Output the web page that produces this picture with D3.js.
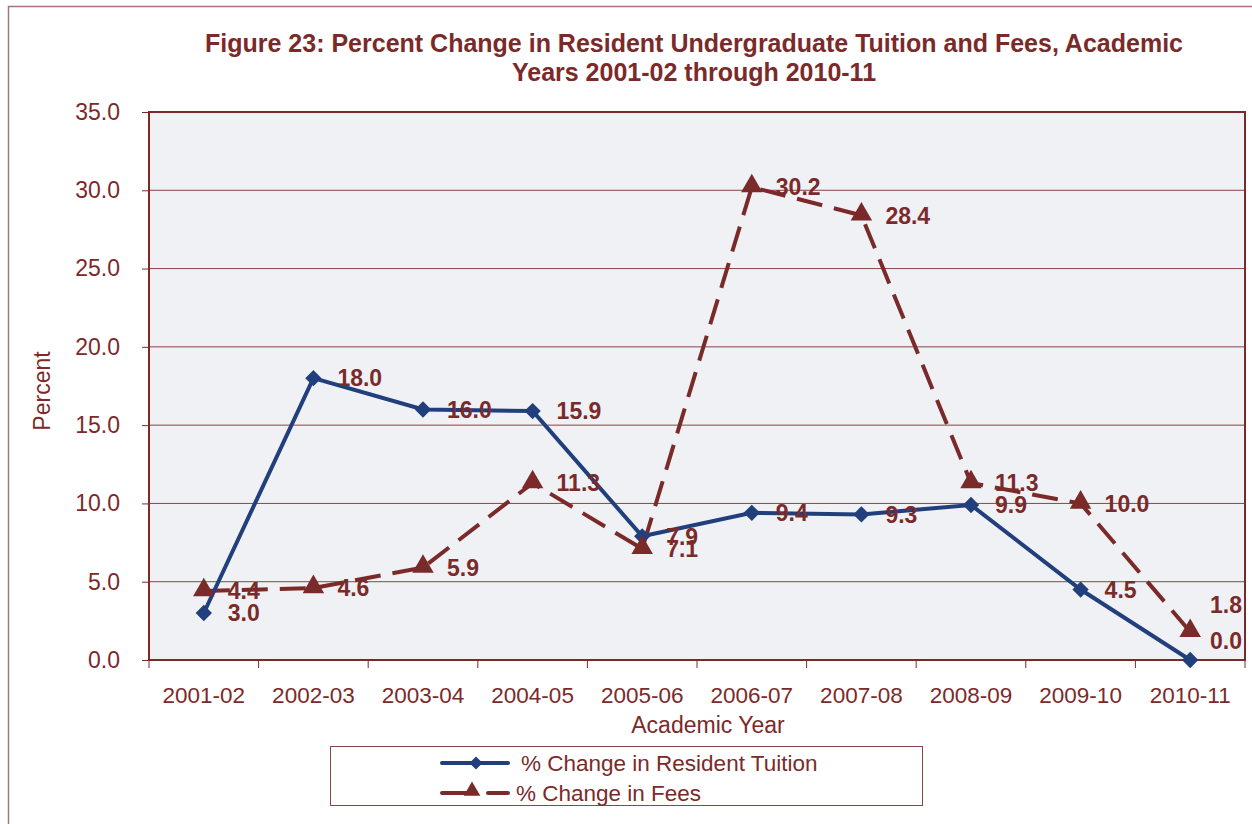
<!DOCTYPE html>
<html>
<head>
<meta charset="utf-8">
<script src="https://cdn.jsdelivr.net/npm/d3@7"></script>
<style>
  body { margin: 0; background: #fff; }
  text { font-family: "Liberation Sans", Arial, sans-serif; }
</style>
</head>
<body>
<svg id="canvas" width="1252" height="824"></svg>
<script>
var years = ["2001-02", "2002-03", "2003-04", "2004-05", "2005-06", "2006-07", "2007-08", "2008-09", "2009-10", "2010-11"];
var tuition = [3.0, 18.0, 16.0, 15.9, 7.9, 9.4, 9.3, 9.9, 4.5, 0.0];
var fees = [4.4, 4.6, 5.9, 11.3, 7.1, 30.2, 28.4, 11.3, 10.0, 1.8];
var yTicks = [0, 5, 10, 15, 20, 25, 30, 35];

var maroon = "#7b2a2a",
  navy = "#213f7d";

var svg = d3.select("#canvas"),
  pLeft = 149, pRight = 1245, pTop = 112, pBottom = 660;

// outer frame
svg.append("path")
  .attr("d", "M8.5,830 V6.5 H1260")
  .attr("fill", "none")
  .attr("stroke", "#a57777")
  .attr("stroke-width", 1.5);

var x = d3.scaleBand().domain(years).range([pLeft, pRight]);
var y = d3.scaleLinear().domain([0, 35]).range([pBottom, pTop]);

svg.append("rect")
  .attr("x", pLeft).attr("y", pTop)
  .attr("width", pRight - pLeft).attr("height", pBottom - pTop)
  .attr("fill", "#f0f1f4");

// gridlines
svg.append("g").selectAll("line")
  .data(yTicks.slice(1, -1))
  .enter().append("line")
  .attr("x1", pLeft).attr("x2", pRight)
  .attr("y1", function(d) { return y(d); })
  .attr("y2", function(d) { return y(d); })
  .attr("stroke", "#8a4545")
  .attr("stroke-width", 1);

svg.append("rect")
  .attr("x", pLeft).attr("y", pTop)
  .attr("width", pRight - pLeft).attr("height", pBottom - pTop)
  .attr("fill", "none")
  .attr("stroke", maroon)
  .attr("stroke-width", 2);

// y axis
var yAxis = svg.append("g")
  .attr("transform", "translate(" + pLeft + ",0)")
  .call(d3.axisLeft(y).tickValues(yTicks).tickFormat(d3.format(".1f")).tickSize(7).tickPadding(22));
yAxis.select(".domain").remove();
yAxis.selectAll("line").attr("stroke", maroon);
yAxis.selectAll("text").attr("fill", maroon).style("font-size", "23px")
  .style("font-family", "Liberation Sans, Arial, sans-serif");

// x axis
var xAxis = svg.append("g")
  .attr("transform", "translate(0," + pBottom + ")")
  .call(d3.axisBottom(x).tickSize(0).tickPadding(27));
xAxis.select(".domain").remove();
xAxis.selectAll("text").attr("fill", maroon).style("font-size", "22.5px")
  .style("font-family", "Liberation Sans, Arial, sans-serif");

svg.append("g").selectAll("line")
  .data(years.concat(["end"]))
  .enter().append("line")
  .attr("x1", function(d, i) { return pLeft + i * x.bandwidth(); })
  .attr("x2", function(d, i) { return pLeft + i * x.bandwidth(); })
  .attr("y1", pBottom).attr("y2", pBottom + 8)
  .attr("stroke", maroon);

svg.append("text")
  .attr("x", 708).attr("y", 733)
  .attr("text-anchor", "middle")
  .attr("fill", maroon)
  .style("font-size", "23px")
  .text("Academic Year");

svg.append("text")
  .attr("transform", "translate(50,391) rotate(-90)")
  .attr("text-anchor", "middle")
  .attr("fill", maroon)
  .style("font-size", "23px")
  .text("Percent");

// title
var title = svg.append("text")
  .attr("text-anchor", "middle")
  .attr("fill", maroon)
  .style("font-size", "25px")
  .style("font-weight", "bold");
title.append("tspan").attr("x", 694).attr("y", 52)
  .text("Figure 23: Percent Change in Resident Undergraduate Tuition and Fees, Academic");
title.append("tspan").attr("x", 694).attr("y", 81)
  .text("Years 2001-02 through 2010-11");

var cx = function(d, i) { return x(years[i]) + x.bandwidth() / 2; };
var line = d3.line()
  .x(function(d, i) { return cx(d, i); })
  .y(function(d) { return y(d); });

svg.append("path")
  .datum(fees)
  .attr("d", line)
  .attr("fill", "none")
  .attr("stroke", maroon)
  .attr("stroke-width", 4)
  .attr("stroke-dasharray", "26,12");

svg.append("path")
  .datum(tuition)
  .attr("d", line)
  .attr("fill", "none")
  .attr("stroke", navy)
  .attr("stroke-width", 4);

var diamond = d3.symbol().type(d3.symbolDiamond2).size(170);
var triangle = d3.symbol().type(d3.symbolTriangle).size(200);

svg.append("g").selectAll("path")
  .data(tuition)
  .enter().append("path")
  .attr("d", diamond)
  .attr("transform", function(d, i) { return "translate(" + cx(d, i) + "," + y(d) + ")"; })
  .attr("fill", navy);

svg.append("g").selectAll("path")
  .data(fees)
  .enter().append("path")
  .attr("d", triangle)
  .attr("transform", function(d, i) { return "translate(" + cx(d, i) + "," + (y(d) - 1) + ")"; })
  .attr("fill", maroon);

// data labels; the last one is pushed back inside the plot and nudged up
function labels(data, lift) {
  svg.append("g").selectAll("text")
    .data(data)
    .enter().append("text")
    .attr("y", function(d, i) { return y(d) - (i == data.length - 1 ? lift : 0); })
    .attr("dy", "0.36em")
    .attr("fill", maroon)
    .style("font-size", "23px")
    .style("font-weight", "bold")
    .text(function(d) { return d.toFixed(1); })
    .attr("x", function(d, i) {
      var px = cx(d, i) + 24,
        w = this.getComputedTextLength();
      return Math.min(px, pRight - 3 - w);
    });
}
labels(tuition, 19);
labels(fees, 27);

// legend
svg.append("rect")
  .attr("x", 330.5).attr("y", 746.5)
  .attr("width", 592).attr("height", 59)
  .attr("fill", "#fff")
  .attr("stroke", "#8a4545")
  .attr("stroke-width", 1);

svg.append("line")
  .attr("x1", 442).attr("x2", 508).attr("y1", 763).attr("y2", 763)
  .attr("stroke", navy).attr("stroke-width", 4).attr("stroke-linecap", "round");
svg.append("path")
  .attr("d", d3.symbol().type(d3.symbolDiamond2).size(110))
  .attr("transform", "translate(476,763)")
  .attr("fill", navy);
svg.append("text")
  .attr("x", 521).attr("y", 763).attr("dy", "0.36em")
  .attr("fill", maroon).style("font-size", "22.5px")
  .text("% Change in Resident Tuition");

svg.append("line")
  .attr("x1", 442).attr("x2", 508).attr("y1", 793).attr("y2", 793)
  .attr("stroke", maroon).attr("stroke-width", 4).attr("stroke-linecap", "round")
  .attr("stroke-dasharray", "34,12,30");
svg.append("path")
  .attr("d", d3.symbol().type(d3.symbolTriangle).size(120))
  .attr("transform", "translate(472,791)")
  .attr("fill", maroon);
svg.append("text")
  .attr("x", 516).attr("y", 793).attr("dy", "0.36em")
  .attr("fill", maroon).style("font-size", "22.5px")
  .text("% Change in Fees");
</script>
</body>
</html>
